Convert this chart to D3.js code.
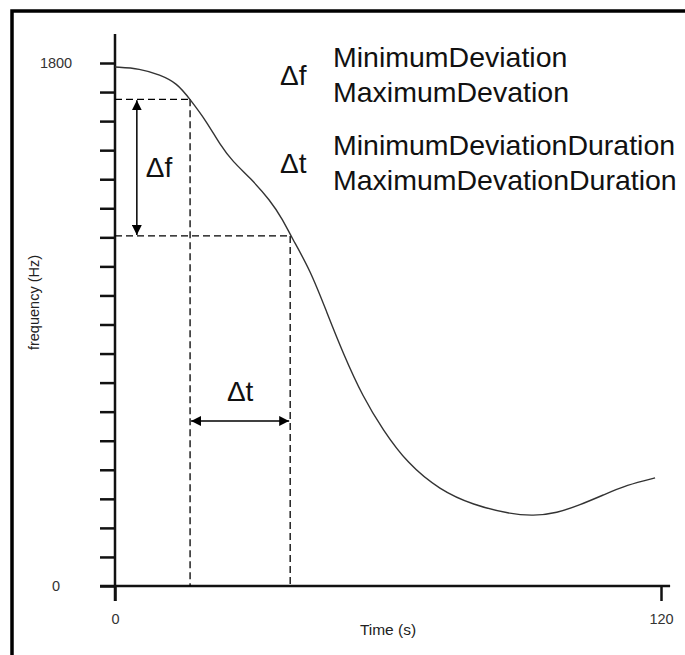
<!DOCTYPE html>
<html>
<head>
<meta charset="utf-8">
<script src="https://cdn.jsdelivr.net/npm/d3@7"></script>
<style>
  html, body { margin: 0; padding: 0; background: #fff; }
  svg { display: block; font-family: "Liberation Sans", Arial, sans-serif; }
</style>
</head>
<body>
<svg id="chart" width="685" height="655"></svg>
<script>
// ---- data ----
const times = [0, 5.5, 9.9, 13.6, 16.5, 20.2, 23.1, 25.9, 29.7, 34.1, 36.9, 38.7, 42.9, 46.6, 50.1, 54.5, 58.9, 64.2, 71.4, 78.7, 86.8, 91.9, 97.1, 102.2, 107.3, 112.5, 118.7];
const freqs = [1786, 1781, 1759, 1731, 1675, 1597, 1518, 1460, 1405, 1328, 1260, 1203, 1088, 940, 802, 650, 537, 423, 330, 279, 248, 241, 251, 279, 313, 348, 372];
const yTickValues = d3.range(0, 1801, 100);
const yTickLabels = [0, 1800];
const xTickValues = [0, 120];
const markTimes = [16.5, 38.5];
const markFreqs = [1675, 1205];
const dfArrowTime = 4.8;
const dtArrowFreq = 568;
const legendLines = [
  ["\u0394f", ["MinimumDeviation", "MaximumDevation"]],
  ["\u0394t", ["MinimumDeviationDuration", "MaximumDevationDuration"]]
];
const xTitle = "Time (s)";
const yTitle = "frequency (Hz)";

// ---- layout ----
const svg = d3.select("#chart");
const x = d3.scaleLinear().domain([0, 120]).range([115, 661]);
const y = d3.scaleLinear().domain([0, 1800]).range([586, 63]);

// border frame (extends beyond right/bottom edge)
svg.append("rect").attr("x", 12).attr("y", 11).attr("width", 760).attr("height", 760)
  .attr("fill", "none").attr("stroke", "#000").attr("stroke-width", 3.5);

// defs for arrowheads
const defs = svg.append("defs");
defs.append("marker").attr("id", "ah").attr("viewBox", "0 0 10 10")
  .attr("refX", 10).attr("refY", 5).attr("markerWidth", 10).attr("markerHeight", 10)
  .attr("markerUnits", "userSpaceOnUse").attr("orient", "auto-start-reverse")
  .append("path").attr("d", "M0,0 L10,5 L0,10 Z").attr("fill", "#000");

// y axis
const yAxis = d3.axisLeft(y).tickValues(yTickValues).tickSize(15)
  .tickFormat(d => yTickLabels.includes(d) ? d : "").tickPadding(45);
const gy = svg.append("g").attr("transform", `translate(${x(0)},0)`).call(yAxis);
gy.select(".domain").remove();
gy.selectAll(".tick line").attr("stroke", "#111").attr("stroke-width", 2.5);
gy.selectAll(".tick text").attr("text-anchor", "middle").attr("x", -59)
  .attr("font-size", 14.5).attr("fill", "#333").attr("font-family", "Liberation Sans, Arial, sans-serif");

// x axis
const xAxis = d3.axisBottom(x).tickValues(xTickValues).tickSize(15).tickPadding(10);
const gx = svg.append("g").attr("transform", `translate(0,${y(0)})`).call(xAxis);
gx.select(".domain").remove();
gx.selectAll(".tick line").attr("stroke", "#111").attr("stroke-width", 2.5);
gx.selectAll(".tick text").attr("font-size", 14.5).attr("fill", "#333")
  .attr("font-family", "Liberation Sans, Arial, sans-serif").attr("dy", "0.9em");

// axis lines (extended)
svg.append("line").attr("x1", x(0)).attr("x2", x(0)).attr("y1", y(1900)).attr("y2", y(0) + 15)
  .attr("stroke", "#111").attr("stroke-width", 2.5);
svg.append("line").attr("x1", x(0) - 15).attr("x2", x(122)).attr("y1", y(0)).attr("y2", y(0))
  .attr("stroke", "#111").attr("stroke-width", 2.5);

// axis titles
svg.append("text").attr("x", (x(0) + x(120)) / 2).attr("y", 635).attr("text-anchor", "middle")
  .attr("font-size", 15.5).attr("fill", "#222").text(xTitle);
svg.append("text").attr("transform", `translate(39,${(y(0) + y(1800)) / 2 - 22}) rotate(-90)`)
  .attr("text-anchor", "middle").attr("font-size", 14.5).attr("fill", "#222").text(yTitle);

// dashed guides
const dash = "7,4";
markTimes.forEach((t, i) => {
  svg.append("line").attr("x1", x(0)).attr("x2", x(t)).attr("y1", y(markFreqs[i])).attr("y2", y(markFreqs[i]))
    .attr("stroke", "#000").attr("stroke-width", 1.3).attr("stroke-dasharray", dash);
  svg.append("line").attr("x1", x(t)).attr("x2", x(t)).attr("y1", y(markFreqs[i])).attr("y2", y(0))
    .attr("stroke", "#000").attr("stroke-width", 1.3).attr("stroke-dasharray", dash);
});

// curve
const pts = times.map((t, i) => [t, freqs[i]]);
svg.append("path").datum(pts)
  .attr("d", d3.line().x(d => x(d[0])).y(d => y(d[1])).curve(d3.curveBasis))
  .attr("fill", "none").attr("stroke", "#333").attr("stroke-width", 1.4);

// Δf arrow
svg.append("line").attr("x1", x(dfArrowTime)).attr("x2", x(dfArrowTime))
  .attr("y1", y(markFreqs[0]) + 1).attr("y2", y(markFreqs[1]) - 1)
  .attr("stroke", "#000").attr("stroke-width", 1.5)
  .attr("marker-start", "url(#ah)").attr("marker-end", "url(#ah)");
svg.append("text").attr("x", x(dfArrowTime) + 9).attr("y", (y(markFreqs[0]) + y(markFreqs[1])) / 2 + 9)
  .attr("font-size", 28).attr("fill", "#111").text("\u0394f");

// Δt arrow
svg.append("line").attr("x1", x(markTimes[0]) + 1).attr("x2", x(markTimes[1]) - 1)
  .attr("y1", y(dtArrowFreq)).attr("y2", y(dtArrowFreq))
  .attr("stroke", "#000").attr("stroke-width", 1.5)
  .attr("marker-start", "url(#ah)").attr("marker-end", "url(#ah)");
svg.append("text").attr("x", (x(markTimes[0]) + x(markTimes[1])) / 2).attr("y", y(dtArrowFreq) - 20)
  .attr("text-anchor", "middle").attr("font-size", 28).attr("fill", "#111").text("\u0394t");

// legend text block
const blockTops = [67, 155];
legendLines.forEach((ln, i) => {
  svg.append("text").attr("x", 280).attr("y", blockTops[i] + 18).attr("font-size", 28)
    .attr("fill", "#111").text(ln[0]);
  ln[1].forEach((s, j) => {
    svg.append("text").attr("x", 333).attr("y", blockTops[i] + j * 35).attr("font-size", 28.5)
      .attr("fill", "#111").text(s);
  });
});
</script>
</body>
</html>
